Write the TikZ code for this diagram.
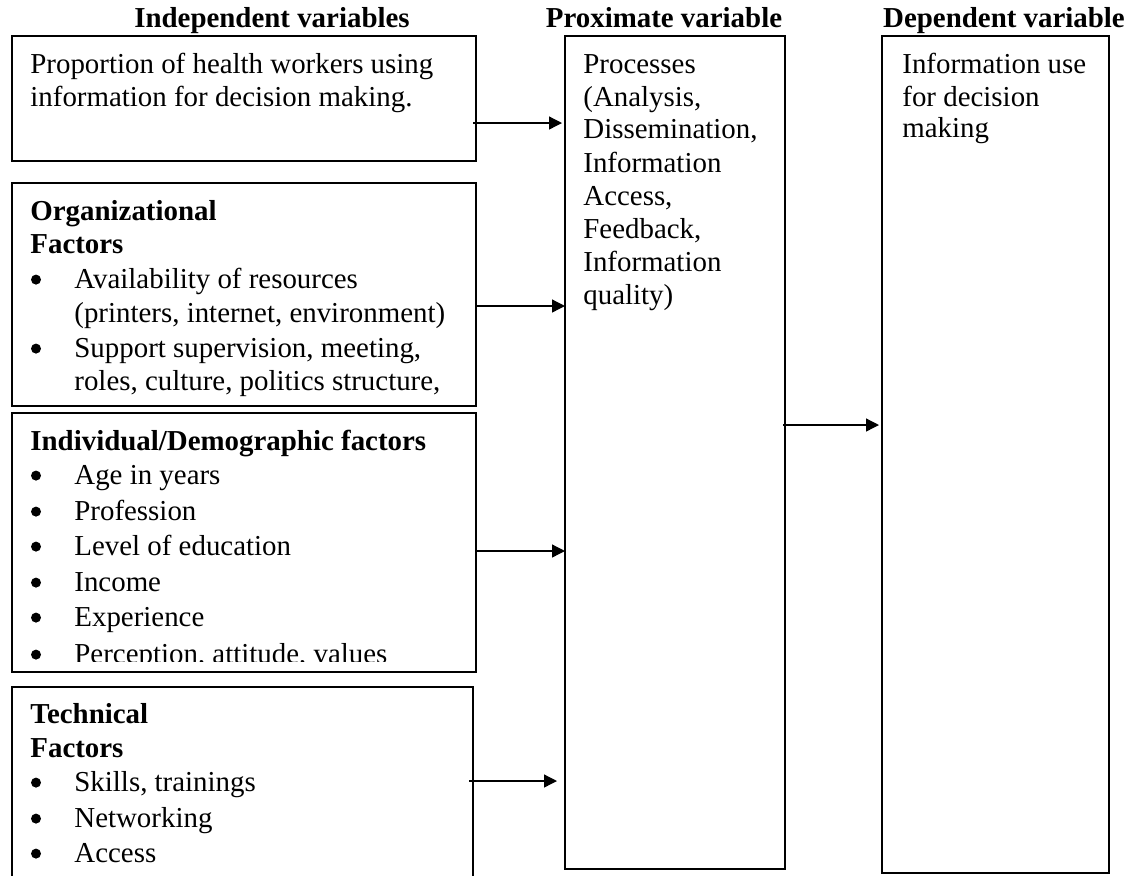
\documentclass[tikz,border=0pt]{standalone}
\usepackage{fontspec}
\setmainfont{Liberation Serif}
\usetikzlibrary{arrows.meta,fit,calc}
\begin{document}
\begin{tikzpicture}[x=0.5pt,y=-0.5pt,
  box/.style={draw, line width=0.65pt, inner sep=0pt, outer sep=0pt},
  txt/.style={anchor=base west, inner sep=0pt, font=\fontsize{14.45}{17}\selectfont},
  bh/.style={anchor=base west, inner sep=0pt, font=\fontsize{14.45}{17}\selectfont\bfseries},
  hd/.style={anchor=base, inner sep=0pt, font=\fontsize{14.45}{17}\selectfont\bfseries},
  bul/.style={circle, fill=black, inner sep=0pt, minimum size=5pt, yshift=4.2pt},
  arr/.style={-{Triangle[length=6.5pt,width=6.5pt]}, line width=0.65pt}]
\useasboundingbox (0,0) rectangle (1137,875);
\clip (0,0) rectangle (1137,875);

% headers
\node[hd] (h1) at (272,27) {Independent variables};
\node[hd] (h2) at (664,27) {Proximate variable};
\node[hd] (h3) at (1004,27) {Dependent variable};

% boxes
\node[box, fit={(12,36) (476,161)}] (b1) {};
\node[box, fit={(12,183) (476,406)}] (b2) {};
\node[box, fit={(12,413) (476,672)}] (b3) {};
\node[box, fit={(12,687) (473,900)}] (b4) {};
\node[box, fit={(565,36) (785,869)}] (mid) {};
\node[box, fit={(882,36) (1109,873)}] (dep) {};

% box 1
\node[txt] (t11) at (30,73) {Proportion of health workers using};
\node[txt] (t12) at (30,106) {information for decision making.};

% box 2
\node[bh] (t21) at (30,220) {Organizational};
\node[bh] (t22) at (30,253) {Factors};
\node[bul] (u21) at (36,288) {};
\node[txt] (t23) at (74,288) {Availability of resources};
\node[txt] (t24) at (74,322) {(printers, internet, environment)};
\node[bul] (u22) at (36,357) {};
\node[txt] (t25) at (74,357) {Support supervision, meeting,};
\node[txt] (t26) at (74,390) {roles, culture, politics structure,};

% box 3
\node[bh] (t31) at (30,450) {Individual/Demographic factors};
\node[bul] (u31) at (36,484) {};
\node[txt] (t32) at (74,484) {Age in years};
\node[bul] (u32) at (36,520) {};
\node[txt] (t33) at (74,520) {Profession};
\node[bul] (u33) at (36,555) {};
\node[txt] (t34) at (74,555) {Level of education};
\node[bul] (u34) at (36,591) {};
\node[txt] (t35) at (74,591) {Income};
\node[bul] (u35) at (36,626) {};
\node[txt] (t36) at (74,626) {Experience};
\begin{scope}
  \clip (12,630) rectangle (476,661.5);
  \node[bul] (u36) at (36,663) {};
  \node[txt] (t37) at (74,663) {Perception, attitude, values};
\end{scope}

% box 4
\node[bh] (t41) at (30,723) {Technical};
\node[bh] (t42) at (30,757) {Factors};
\node[bul] (u41) at (36,791) {};
\node[txt] (t43) at (74,791) {Skills, trainings};
\node[bul] (u42) at (36,827) {};
\node[txt] (t44) at (74,827) {Networking};
\node[bul] (u43) at (36,862) {};
\node[txt] (t45) at (74,862) {Access};

% middle box
\node[txt] (m1) at (583,73) {Processes};
\node[txt] (m2) at (583,106) {(Analysis,};
\node[txt] (m3) at (583,138) {Dissemination,};
\node[txt] (m4) at (583,172) {Information};
\node[txt] (m5) at (583,205) {Access,};
\node[txt] (m6) at (583,238) {Feedback,};
\node[txt] (m7) at (583,271) {Information};
\node[txt] (m8) at (583,304) {quality)};

% right box
\node[txt] (r1) at (902,73) {Information use};
\node[txt] (r2) at (902,106) {for decision};
\node[txt] (r3) at (902,137) {making};

% arrows
\coordinate (y1) at (0,123);
\coordinate (y2) at (0,306);
\coordinate (y3) at (0,551);
\coordinate (y4) at (0,781);
\coordinate (y5) at (0,425);
\draw[arr, shorten >=1.5pt] ($(b1.east |- y1)+(-3,0)$) -- (mid.west |- y1);
\draw[arr] (b2.east |- y2) -- (mid.west |- y2);
\draw[arr] (b3.east |- y3) -- (mid.west |- y3);
\draw[arr, shorten >=4pt] ($(b4.east |- y4)+(-4,0)$) -- (mid.west |- y4);
\draw[arr, shorten >=1.5pt] ($(mid.east |- y5)+(-2,0)$) -- (dep.west |- y5);
\end{tikzpicture}
\end{document}
